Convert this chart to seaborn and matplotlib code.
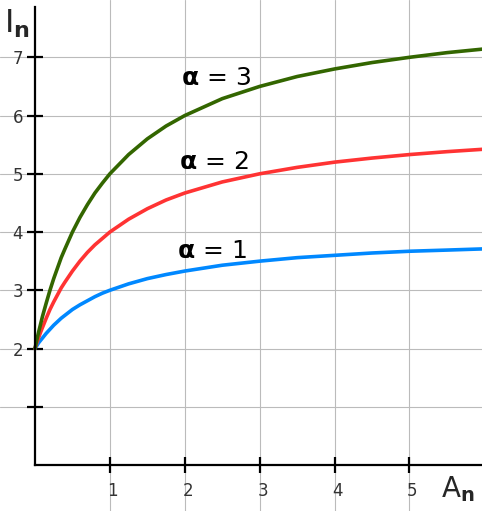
import pandas as pd
import matplotlib.pyplot as plt
import matplotlib.transforms as mtransforms
import seaborn as sns

# values
A_vals = [0, 0.025, 0.05, 0.075, 0.1, 0.15, 0.2, 0.25, 0.3, 0.35, 0.4, 0.5, 0.6,
          0.7, 0.8, 0.9, 1.0, 1.25, 1.5, 1.75, 2.0, 2.5, 3.0, 3.5, 4.0, 4.5,
          5.0, 5.5, 5.97]
I_alpha1 = [2, 2.05, 2.10, 2.14, 2.18, 2.26, 2.33, 2.40, 2.46, 2.52, 2.57, 2.67,
            2.75, 2.82, 2.89, 2.95, 3.00, 3.11, 3.20, 3.27, 3.33, 3.43, 3.50,
            3.56, 3.60, 3.64, 3.67, 3.69, 3.71]
I_alpha2 = [2, 2.10, 2.19, 2.28, 2.36, 2.52, 2.67, 2.80, 2.92, 3.04, 3.14, 3.33,
            3.50, 3.65, 3.78, 3.89, 4.00, 4.22, 4.40, 4.55, 4.67, 4.86, 5.00,
            5.11, 5.20, 5.27, 5.33, 5.38, 5.42]
I_alpha3 = [2, 2.15, 2.29, 2.42, 2.55, 2.78, 3.00, 3.20, 3.38, 3.56, 3.71, 4.00,
            4.25, 4.47, 4.67, 4.84, 5.00, 5.33, 5.60, 5.82, 6.00, 6.29, 6.50,
            6.67, 6.80, 6.91, 7.00, 7.08, 7.14]
alphas = ['1', '2', '3']
colors = {'1': '#0088ff', '2': '#ff3333', '3': '#336600'}
x_ticks = [1, 2, 3, 4, 5]
y_ticks = [1, 2, 3, 4, 5, 6, 7]
y_ticklabels = ['', '2', '3', '4', '5', '6', '7']

df = pd.concat([
    pd.DataFrame({'A': A_vals, 'I': I_alpha1, 'alpha': '1'}),
    pd.DataFrame({'A': A_vals, 'I': I_alpha2, 'alpha': '2'}),
    pd.DataFrame({'A': A_vals, 'I': I_alpha3, 'alpha': '3'}),
])

sns.set_style('white')
plt.rcParams['font.family'] = ['DejaVu Sans']
plt.rcParams['mathtext.fontset'] = 'dejavusans'

fig = plt.figure(figsize=(4.82, 5.11), dpi=100)
ax = fig.add_axes([0, 0, 1, 1])

sns.lineplot(data=df, x='A', y='I', hue='alpha', palette=colors,
             linewidth=2.6, legend=False, ax=ax, zorder=3)

ax.set_xlim(-0.467, 5.968)
ax.set_ylim(-0.79, 7.984)
ax.set_xlabel('')
ax.set_ylabel('')

ax.set_xticks(x_ticks)
ax.set_xticklabels([str(t) for t in x_ticks])
ax.set_yticks(y_ticks)
ax.set_yticklabels(y_ticklabels)
ax.grid(True, color='#bbbbbb', linewidth=0.8, zorder=0)
ax.set_axisbelow(True)

for s in ['top', 'right']:
    ax.spines[s].set_visible(False)
ax.spines['left'].set_position(('data', 0))
ax.spines['bottom'].set_position(('data', 0))
ax.spines['left'].set_bounds(0, 7.86)
ax.spines['bottom'].set_bounds(0, 5.968)
for s in ['left', 'bottom']:
    ax.spines[s].set_linewidth(1.6)
    ax.spines[s].set_color('black')
    ax.spines[s].set_zorder(4)

ax.tick_params(axis='both', direction='inout', length=11, width=1.6,
               colors='black', labelcolor='#333333', labelsize=12,
               bottom=True, left=True, top=False, right=False)
ax.tick_params(axis='x', pad=7)
ax.tick_params(axis='y', pad=3)
shift = mtransforms.ScaledTranslation(0.03, 0, fig.dpi_scale_trans)
for lab in ax.get_xticklabels():
    lab.set_transform(lab.get_transform() + shift)

for a, xx, yy in [('3', 1.95, 6.52), ('2', 1.92, 5.08), ('1', 1.90, 3.55)]:
    ax.text(xx, yy, r'$\mathbf{\alpha}$ = ' + a, fontsize=18,
            ha='left', va='baseline', color='black', zorder=5)

fig.text(4 / 482, 1 - 33 / 511, r'$\mathrm{I}_\mathbf{n}$', fontsize=23,
         ha='left', va='baseline')
fig.text(441 / 482, 1 - 497 / 511, r'$\mathrm{A}_\mathbf{n}$', fontsize=20,
         ha='left', va='baseline')

fig.savefig('out.png', dpi=100)
